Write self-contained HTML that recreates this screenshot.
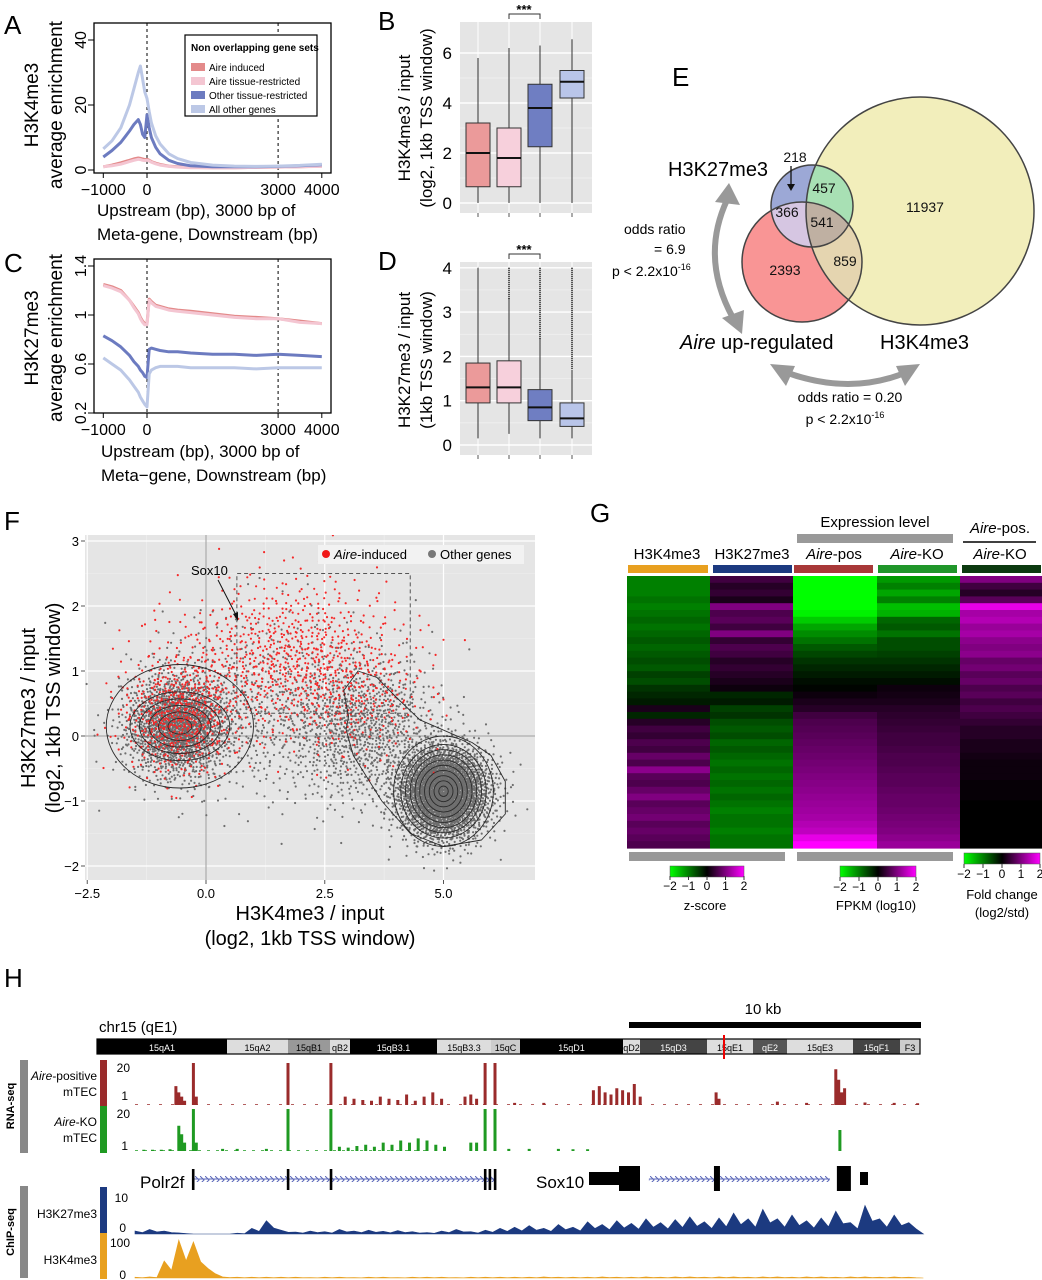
<!DOCTYPE html>
<html><head><meta charset="utf-8">
<style>
html,body{margin:0;padding:0;background:#fff;}
svg{display:block;font-family:"Liberation Sans",sans-serif;}
</style></head>
<body>
<svg id="fig" width="1042" height="1280" viewBox="0 0 1042 1280" xmlns="http://www.w3.org/2000/svg">
<defs>
<clipPath id="cY"><circle cx="920" cy="211" r="114"/></clipPath>
<clipPath id="cR"><circle cx="802" cy="262" r="60"/></clipPath>
<clipPath id="cF"><rect x="85" y="535" width="450" height="345"/></clipPath>
<linearGradient id="gz" x1="0" x2="1"><stop offset="0" stop-color="#00ff00"/><stop offset="0.5" stop-color="#000"/><stop offset="1" stop-color="#ff00ff"/></linearGradient>
<pattern id="hatch" width="5" height="8" patternUnits="userSpaceOnUse"><path d="M0 0 L4 4 L0 8" fill="none" stroke="#5a66b8" stroke-width="1"/></pattern>
</defs>
<rect x="0" y="0" width="1042" height="1280" fill="#fff"/>

<g font-size="26">
<text x="4" y="34">A</text>
<text x="378" y="30">B</text>
<text x="4" y="272">C</text>
<text x="378" y="270">D</text>
<text x="672" y="86">E</text>
<text x="4" y="530">F</text>
<text x="590" y="522">G</text>
<text x="4" y="987">H</text>
</g>

<g id="pa">
<text transform="translate(38,105) rotate(-90)" text-anchor="middle" font-size="19">H3K4me3</text>
<text transform="translate(62,105) rotate(-90)" text-anchor="middle" font-size="19">average enrichment</text>
<text x="97" y="216" font-size="17">Upstream (bp), 3000 bp of</text>
<text x="97" y="240" font-size="17">Meta-gene, Downstream (bp)</text>
</g>
<g id="pc">
<text transform="translate(38,338) rotate(-90)" text-anchor="middle" font-size="19">H3K27me3</text>
<text transform="translate(62,338) rotate(-90)" text-anchor="middle" font-size="19">average enrichment</text>
<text x="101" y="457" font-size="17">Upstream (bp), 3000 bp of</text>
<text x="101" y="481" font-size="17">Meta−gene, Downstream (bp)</text>
</g>
<g id="pb">
<text transform="translate(410,118) rotate(-90)" text-anchor="middle" font-size="17">H3K4me3 / input</text>
<text transform="translate(432,118) rotate(-90)" text-anchor="middle" font-size="17">(log2, 1kb TSS window)</text>
</g>
<g id="pd">
<text transform="translate(410,360) rotate(-90)" text-anchor="middle" font-size="17">H3K27me3 / input</text>
<text transform="translate(432,360) rotate(-90)" text-anchor="middle" font-size="17">(1kb TSS window)</text>
</g>

<g id="pe">
<circle cx="920" cy="211" r="114" fill="#f2eebb"/>
<circle cx="802" cy="262" r="60" fill="#f99595"/>
<circle cx="812" cy="206" r="41" fill="#9ca8d6"/>
<circle cx="802" cy="262" r="60" fill="#e5d5b0" clip-path="url(#cY)"/>
<circle cx="812" cy="206" r="41" fill="#a8e0b4" clip-path="url(#cY)"/>
<circle cx="812" cy="206" r="41" fill="#d6c6e2" clip-path="url(#cR)"/>
<g clip-path="url(#cY)"><circle cx="812" cy="206" r="41" fill="#bfb0a2" clip-path="url(#cR)"/></g>
<g fill="none" stroke="#444" stroke-width="1.5">
<circle cx="920" cy="211" r="114"/><circle cx="802" cy="262" r="60"/><circle cx="812" cy="206" r="41"/>
</g>
<g font-size="14" text-anchor="middle" fill="#111">
<text x="795" y="162">218</text>
<text x="824" y="193">457</text>
<text x="925" y="212">11937</text>
<text x="787" y="217">366</text>
<text x="822" y="227">541</text>
<text x="845" y="266">859</text>
<text x="785" y="275">2393</text>
</g>
<path d="M791 166 L791 187" stroke="#111" stroke-width="1.3"/>
<path d="M787 184 L791 191 L795 184Z" fill="#111"/>
<text x="668" y="176" font-size="20">H3K27me3</text>
<text x="680" y="349" font-size="20"><tspan font-style="italic">Aire</tspan> up-regulated</text>
<text x="880" y="349" font-size="20">H3K4me3</text>
<g font-size="14">
<text x="624" y="234">odds ratio</text>
<text x="654" y="254">= 6.9</text>
<text x="612" y="276">p &lt; 2.2x10<tspan font-size="9" dy="-6">-16</tspan></text>
</g>
<g font-size="14" text-anchor="middle">
<text x="850" y="402">odds ratio = 0.20</text>
<text x="845" y="424">p &lt; 2.2x10<tspan font-size="9" dy="-6">-16</tspan></text>
</g>
<path d="M727 200 Q 700 258 733 318" fill="none" stroke="#999" stroke-width="6"/>
<path d="M715 202 L729 183 L740 205Z" fill="#999"/>
<path d="M722 318 L742 334 L744 310Z" fill="#999"/>
<path d="M785 372 Q 850 396 907 372" fill="none" stroke="#999" stroke-width="6"/>
<path d="M770 364 L795 366 L786 386Z" fill="#999"/>
<path d="M920 364 L896 366 L905 386Z" fill="#999"/>
</g>

<g id="pf">
<text transform="translate(35,708) rotate(-90)" text-anchor="middle" font-size="20">H3K27me3 / input</text>
<text transform="translate(60,708) rotate(-90)" text-anchor="middle" font-size="20">(log2, 1kb TSS window)</text>
<text x="310" y="920" text-anchor="middle" font-size="20">H3K4me3 / input</text>
<text x="310" y="945" text-anchor="middle" font-size="20">(log2, 1kb TSS window)</text>
</g>

<g id="pg">
<text x="875" y="527" text-anchor="middle" font-size="15">Expression level</text>
<rect x="797" y="534" width="156" height="9" fill="#999"/>
<text x="1000" y="533" text-anchor="middle" font-size="15"><tspan font-style="italic">Aire</tspan>-pos.</text>
<line x1="963" y1="542" x2="1036" y2="542" stroke="#000" stroke-width="1.5"/>
<text x="1000" y="559" text-anchor="middle" font-size="15"><tspan font-style="italic">Aire</tspan>-KO</text>
<g font-size="15" text-anchor="middle">
<text x="667" y="559">H3K4me3</text>
<text x="752" y="559">H3K27me3</text>
<text x="834" y="559"><tspan font-style="italic">Aire</tspan>-pos</text>
<text x="917" y="559"><tspan font-style="italic">Aire</tspan>-KO</text>
</g>
<rect x="628" y="565" width="80" height="8" fill="#e8a020"/>
<rect x="713" y="565" width="79" height="8" fill="#1c3a80"/>
<rect x="794" y="565" width="79" height="8" fill="#a83838"/>
<rect x="878" y="565" width="79" height="8" fill="#20962a"/>
<rect x="962" y="565" width="79" height="8" fill="#0c3a10"/>
<rect x="629" y="852" width="156" height="9" fill="#999"/>
<rect x="797" y="852" width="156" height="9" fill="#999"/>
<rect x="670" y="866" width="74" height="11" fill="url(#gz)" stroke="#555" stroke-width="0.5"/>
<rect x="840" y="866" width="76" height="11" fill="url(#gz)" stroke="#555" stroke-width="0.5"/>
<rect x="964" y="853" width="76" height="11" fill="url(#gz)" stroke="#555" stroke-width="0.5"/>
<g font-size="13" text-anchor="middle">
<text x="705" y="910">z-score</text>
<text x="876" y="910">FPKM (log10)</text>
<text x="1002" y="899">Fold change</text>
<text x="1002" y="917">(log2/std)</text>
</g>
</g>

<g id="ph">
<text x="763" y="1014" text-anchor="middle" font-size="15">10 kb</text>
<rect x="629" y="1022" width="292" height="6" fill="#000"/>
<text x="99" y="1032" font-size="15">chr15 (qE1)</text>
<rect x="20" y="1060" width="8" height="93" fill="#888"/>
<rect x="20" y="1186" width="8" height="92" fill="#888"/>
<text transform="translate(14,1106) rotate(-90)" text-anchor="middle" font-size="11" font-weight="bold">RNA-seq</text>
<text transform="translate(14,1232) rotate(-90)" text-anchor="middle" font-size="11" font-weight="bold">ChIP-seq</text>
<rect x="100" y="1060" width="7" height="46" fill="#9a2b2b"/>
<rect x="100" y="1106" width="7" height="47" fill="#1f9a22"/>
<rect x="100" y="1187" width="7" height="46" fill="#1c3a80"/>
<rect x="100" y="1233" width="7" height="46" fill="#e8a020"/>
<g font-size="12" text-anchor="end">
<text x="97" y="1080"><tspan font-style="italic">Aire</tspan>-positive</text>
<text x="97" y="1096">mTEC</text>
<text x="97" y="1126"><tspan font-style="italic">Aire</tspan>-KO</text>
<text x="97" y="1142">mTEC</text>
<text x="97" y="1218">H3K27me3</text>
<text x="97" y="1264">H3K4me3</text>
<text x="130" y="1072">20</text><text x="128" y="1100">1</text>
<text x="130" y="1118">20</text><text x="128" y="1150">1</text>
<text x="128" y="1202">10</text><text x="126" y="1232">0</text>
<text x="130" y="1247">100</text><text x="126" y="1279">0</text>
</g>
<text x="140" y="1188" font-size="17">Polr2f</text>
<text x="536" y="1188" font-size="17">Sox10</text>
</g>
</svg>

<script>
var svg=document.getElementById('fig');
var NS='http://www.w3.org/2000/svg';
function mk(tag,attrs,parent){var e=document.createElementNS(NS,tag);for(var k in attrs)e.setAttribute(k,attrs[k]);(parent||svg).appendChild(e);return e;}
function tx(str,attrs,parent){var e=mk('text',attrs,parent);e.textContent=str;return e;}

var metaX=[-1000,-800,-600,-400,-300,-200,-150,-100,-50,0,50,100,200,300,500,700,1000,1500,2000,2500,3000,3500,4000];
var aAireInduced=[1.0,1.5,2.2,3.0,3.4,3.7,3.6,3.4,3.2,3.3,3.0,2.6,2.1,1.7,1.2,1.0,0.8,0.7,0.7,0.8,0.9,1.0,1.2];
var aAireTissue=[1.0,1.3,1.8,2.6,3.0,3.3,3.2,3.0,2.9,3.0,2.8,2.4,1.9,1.5,1.1,0.9,0.7,0.7,0.7,0.8,0.9,1.0,1.1];
var aOtherTissue=[4,6,8.5,12,14,15.5,14,11,10,17,13,10,7,5,3,2,1.3,1.0,1.0,1.0,1.1,1.3,1.6];
var aAllOther=[6.5,9,13,20,25,30,32,28,24,22,18,14.5,10.5,8,5,3.5,2.3,1.5,1.2,1.1,1.2,1.4,1.8];
var cAireInduced=[1.25,1.23,1.2,1.12,1.07,1.02,0.98,0.95,0.93,0.93,1.13,1.11,1.08,1.07,1.05,1.04,1.03,1.01,0.99,0.98,0.97,0.95,0.93];
var cAireTissue=[1.24,1.22,1.19,1.12,1.06,1.01,0.97,0.94,0.92,0.92,1.12,1.10,1.07,1.06,1.04,1.03,1.02,1.0,0.98,0.97,0.97,0.94,0.93];
var cOtherTissue=[0.83,0.79,0.74,0.67,0.62,0.58,0.55,0.53,0.5,0.49,0.72,0.73,0.72,0.71,0.7,0.7,0.69,0.68,0.68,0.67,0.68,0.67,0.66];
var cAllOther=[0.65,0.6,0.55,0.47,0.42,0.37,0.33,0.3,0.27,0.25,0.52,0.55,0.57,0.58,0.58,0.58,0.57,0.57,0.57,0.56,0.57,0.57,0.57];
var aTicks=[0,20,40], cTicks=[0.2,0.6,1.0,1.4], xTicks=[-1000,0,3000,4000];
var seriesColors=['#e38a8a','#f4c6d2','#6c7bc0','#bcc8e6'];

function metaPanel(g,top,bottom,yf,ticks,series,legend){
  var xf=function(v){return 147+v*0.0437;};
  var box=mk('rect',{x:94,y:top,width:237,height:bottom-top,fill:'none',stroke:'#000','stroke-width':1.3},g);
  
  
  [0,3000].forEach(function(v){var l=mk('line',{x1:xf(v),x2:xf(v),y1:top,y2:bottom,stroke:'#000','stroke-dasharray':'3,3'},g);
    
    });
  ticks.forEach(function(t){mk('line',{x1:88,x2:94,y1:yf(t),y2:yf(t),stroke:'#000'},g);
    var t2=tx(String(t),{transform:'translate(86,'+yf(t)+') rotate(-90)','text-anchor':'middle','font-size':16},g);
    
    });
  xTicks.forEach(function(t){mk('line',{x1:xf(t),x2:xf(t),y1:bottom,y2:bottom+5,stroke:'#000'},g);
    var t2=tx(t<0?'\u2212'+(-t):String(t),{x:xf(t),y:bottom+22,'text-anchor':'middle','font-size':16},g);
    
    });
  series.forEach(function(s,i){
    var d=metaX.map(function(x,j){return (j?'L':'M')+xf(x).toFixed(1)+' '+yf(s[j]).toFixed(1);}).join(' ');
    var p=mk('path',{d:d,fill:'none',stroke:seriesColors[i],'stroke-width':3,'stroke-linejoin':'round'},g);
    
    
  });
  if(legend){
    var lg=mk('g',{},g);
    
    
    mk('rect',{x:185,y:35,width:132,height:81,fill:'#fff',stroke:'#000','stroke-width':1.2},lg);
    tx('Non overlapping gene sets',{x:191,y:51,'font-size':10,'font-weight':'bold'},lg);
    var names=['Aire induced','Aire tissue-restricted','Other tissue-restricted','All other genes'];
    names.forEach(function(n,i){var y=63+i*14;
      var r=mk('rect',{x:191,y:y,width:14,height:8,fill:seriesColors[i]},lg);
      
      
      var t=tx(n,{x:209,y:y+8,'font-size':10},lg);
      
      });
  }
}
metaPanel(document.getElementById('pa'),23,173,function(v){return 170-3.25*v;},aTicks,[aAireInduced,aAireTissue,aOtherTissue,aAllOther],true);
metaPanel(document.getElementById('pc'),259,413,function(v){return 315-(v-1)*122.5;},cTicks,[cAireInduced,cAireTissue,cOtherTissue,cAllOther],false);

var bQ1=[0.65,0.65,2.25,4.2], bMed=[2.0,1.8,3.8,4.85], bQ3=[3.2,3.0,4.75,5.3], bLo=[0,0,0,0], bHi=[5.8,6.2,6.3,6.55], bTicks=[0,2,4,6];
var dQ1=[0.95,0.95,0.55,0.42], dMed=[1.3,1.3,0.85,0.6], dQ3=[1.85,1.9,1.25,0.95], dLo=[0.15,0.25,0.15,0.15], dHi=[4.0,3.3,2.4,1.7], dOut=[4.0,4.0,4.0,4.0], dTicks=[0,1,2,3,4];
var boxColors=['#eb9a9a','#f7d0dc','#6f7ec2','#b9c5e9'];
function boxPanel(g,top,bottom,yf,ticks,q1,med,q3,lo,hi,out){
  var bg=mk('rect',{x:460,y:top,width:132,height:bottom-top,fill:'#e5e5e5'},g);
  
  
  ticks.forEach(function(t,i){mk('line',{x1:460,x2:592,y1:yf(t),y2:yf(t),stroke:'#fff','stroke-width':1.4},g);
    if(i<ticks.length-1){var m=(t+ticks[i+1])/2;mk('line',{x1:460,x2:592,y1:yf(m),y2:yf(m),stroke:'#f2f2f2','stroke-width':0.7},g);}
    var l=tx(String(t),{x:452,y:yf(t)+6,'text-anchor':'end','font-size':17},g);
    
    });
  var cx=[478,509,540,572];
  cx.forEach(function(x){mk('line',{x1:x,x2:x,y1:top,y2:bottom,stroke:'#fff','stroke-width':1},g);mk('line',{x1:x,x2:x,y1:bottom,y2:bottom+4,stroke:'#555'},g);});
  q1.forEach(function(v,i){
    var x=cx[i];
    if(out){var o=mk('line',{x1:x,x2:x,y1:yf(out[i]),y2:yf(hi[i]),stroke:'#222','stroke-width':2,'stroke-dasharray':'1,1'},g);
      
      }
    var w=mk('line',{x1:x,x2:x,y1:yf(hi[i]),y2:yf(lo[i]),stroke:'#333','stroke-width':1},g);
    
    
    var r=mk('rect',{x:x-12,y:yf(q3[i]),width:24,height:yf(v)-yf(q3[i]),fill:boxColors[i],stroke:'#333','stroke-width':1},g);
    
    
    var m=mk('line',{x1:x-12,x2:x+12,y1:yf(med[i]),y2:yf(med[i]),stroke:'#111','stroke-width':2},g);
    
    
  });
  var br=mk('path',{d:'M509 '+(top-3)+' V'+(top-8)+' H540 V'+(top-3),fill:'none',stroke:'#333'},g);
  
  
  var st=tx('***',{x:524,y:top-8,'text-anchor':'middle','font-size':13,'font-weight':'bold'},g);
  
  
}
boxPanel(document.getElementById('pb'),22,213,function(v){return 203-25*v;},bTicks,bQ1,bMed,bQ3,bLo,bHi,null);
boxPanel(document.getElementById('pd'),262,455,function(v){return 445-44.3*v;},dTicks,dQ1,dMed,dQ3,dLo,dHi,dOut);

var otherCx=[5.0,-0.6,3.3,1.3,5.0], otherCy=[-0.85,0.15,0.1,0.4,-1.1], otherSx=[0.5,0.55,0.8,1.3,0.35], otherSy=[0.36,0.4,0.55,0.7,0.3], otherN=[2600,1600,900,600,300];
var aireCx=[-0.6,1.8,3.2,-0.2], aireCy=[0.25,1.25,0.6,0.7], aireSx=[0.55,1.1,0.8,0.9], aireSy=[0.42,0.6,0.5,0.6], aireN=[450,650,220,180];
var fxTicks=[-2.5,0,2.5,5], fxLabels=['-2.5','0.0','2.5','5.0'], fyTicks=[-2,-1,0,1,2,3];
var leftRx=[0.25,0.45,0.65,0.85,1.05,1.55], leftRy=[0.12,0.22,0.32,0.42,0.53,0.95];
var rightRx=[0.1,0.2,0.3,0.4,0.5,0.6,0.7,0.8,0.9,1.05], rightRy=[0.08,0.16,0.24,0.32,0.4,0.48,0.56,0.64,0.72,0.85];
var outerX=[2.9,3.2,3.6,4.0,4.5,5.6,6.0,6.3,6.3,5.8,5.0,4.3,3.7,3.1,2.95,3.0,2.9];
var outerY=[0.7,1.0,0.9,0.6,0.25,-0.1,-0.3,-0.7,-1.2,-1.6,-1.7,-1.5,-1.0,-0.3,0.1,0.3,0.7];
var fX=function(v){return 206+47.5*v;}, fY=function(v){return 736-65*v;};
(function(){
  var g=document.getElementById('pf');
  var bg=mk('rect',{x:85,y:535,width:450,height:345,fill:'#e5e5e5'},g);
  
  
  [-1.25,1.25,3.75].forEach(function(v){mk('line',{x1:fX(v),x2:fX(v),y1:535,y2:880,stroke:'#f0f0f0','stroke-width':0.6},g);});
  [-1.5,-0.5,0.5,1.5,2.5].forEach(function(v){mk('line',{x1:85,x2:535,y1:fY(v),y2:fY(v),stroke:'#f0f0f0','stroke-width':0.6},g);});
  fxTicks.forEach(function(v,i){mk('line',{x1:fX(v),x2:fX(v),y1:535,y2:880,stroke:'#fff','stroke-width':1.2},g);
    mk('line',{x1:fX(v),x2:fX(v),y1:880,y2:884,stroke:'#555'},g);
    var t=tx(fxLabels[i].replace('-','\u2212'),{x:fX(v),y:898,'text-anchor':'middle','font-size':13},g);
    
    });
  fyTicks.forEach(function(v){mk('line',{x1:85,x2:535,y1:fY(v),y2:fY(v),stroke:'#fff','stroke-width':1.2},g);
    mk('line',{x1:81,x2:85,y1:fY(v),y2:fY(v),stroke:'#555'},g);
    var t=tx(v<0?'\u2212'+(-v):String(v),{x:79,y:fY(v)+5,'text-anchor':'end','font-size':13},g);
    
    });
  mk('line',{x1:fX(0),x2:fX(0),y1:535,y2:880,stroke:'#999','stroke-width':1},g);
  mk('line',{x1:85,x2:535,y1:fY(0),y2:fY(0),stroke:'#999','stroke-width':1},g);
  var pts=mk('g',{'clip-path':'url(#cF)'},g);
  
  
  function halton(i,b){var f=1,r=0;while(i>0){f/=b;r+=f*(i%b);i=Math.floor(i/b);}return r;}
  var idx=1;
  function cloud(cx,cy,sx,sy,n,col,name){
    var d='';
    for(var c=0;c<cx.length;c++){
      for(var k=0;k<n[c];k++){
        var u=halton(idx,2)*0.999+0.0005,w=halton(idx,3);idx++;
        var rr=Math.sqrt(-2*Math.log(u));
        var x=fX(cx[c]+sx[c]*rr*Math.cos(2*Math.PI*w)), y=fY(cy[c]+sy[c]*rr*Math.sin(2*Math.PI*w));
        d+='M'+x.toFixed(1)+' '+y.toFixed(1)+'h0';
      }
    }
    var p=mk('path',{d:d,stroke:col,'stroke-width':2.2,'stroke-linecap':'round',fill:'none'},pts);
    
    
  }
  cloud(otherCx,otherCy,otherSx,otherSy,otherN,'#6e6e6e','other-genes-points');
  cloud(aireCx,aireCy,aireSx,aireSy,aireN,'#f52828','aire-induced-points');
  var cont=mk('g',{fill:'none',stroke:'#2a2a2a','stroke-width':0.9},g);
  
  
  leftRx.forEach(function(r,i){mk('ellipse',{cx:fX(-0.55),cy:fY(0.15),rx:r*47.5,ry:leftRy[i]*65},cont);});
  rightRx.forEach(function(r,i){mk('ellipse',{cx:fX(5.0),cy:fY(-0.85),rx:r*47.5,ry:rightRy[i]*65},cont);});
  mk('path',{d:outerX.map(function(x,i){return (i?'L':'M')+fX(x).toFixed(1)+' '+fY(outerY[i]).toFixed(1);}).join(' ')+'Z','stroke-linejoin':'round'},cont);
  var box=mk('path',{d:'M'+fX(0.65)+' '+fY(0.35)+' V'+fY(2.5)+' H'+fX(4.3)+' V'+fY(0.35)+' Z',fill:'none',stroke:'#555','stroke-dasharray':'4,3','stroke-width':1},g);
  
  
  var s=tx('Sox10',{x:191,y:575,'font-size':13},g);
  
  
  mk('line',{x1:218,y1:580,x2:237,y2:617,stroke:'#111','stroke-width':1},g);
  mk('path',{d:'M233 614 L238 621 L238 612Z',fill:'#111'},g);
  var lg=mk('g',{},g);
  
  
  mk('rect',{x:318,y:545,width:206,height:19,fill:'#f2f2f2'},lg);
  mk('circle',{cx:326,cy:554,r:4,fill:'#f01818'},lg);
  var t1=mk('text',{x:334,y:559,'font-size':13},lg);
  var ts=mk('tspan',{'font-style':'italic'},t1); ts.textContent='Aire';
  t1.appendChild(document.createTextNode('-induced'));
  
  
  mk('circle',{cx:432,cy:554,r:4,fill:'#777'},lg);
  var t2=tx('Other genes',{x:440,y:559,'font-size':13},lg);
  
  
})();

var hmK4=[-1.0,-1.0,-1.0,-0.9,-1.0,-0.9,-0.8,-0.9,-0.8,-0.7,-0.8,-0.7,-0.6,-0.7,-0.5,-0.6,-0.4,-0.3,-0.2,0.2,-0.3,0.3,0.5,0.4,0.6,0.5,0.8,0.6,1.1,0.7,0.6,0.8,1.0,0.7,0.8,0.9,0.7,0.8,0.7,0.6];
var hmK27=[0.5,0.3,0.4,0.2,1.0,0.6,0.7,0.5,1.0,0.4,0.6,0.5,0.3,0.4,0.3,0.2,0.1,-0.3,-0.2,-0.5,-0.4,-0.6,-0.7,-0.6,-0.8,-0.7,-0.8,-0.9,-0.8,-0.9,-0.8,-0.9,-0.8,-0.9,-1.0,-0.9,-0.9,-1.0,-0.9,-0.9];
var hmPos=[-2,-2,-2,-2,-2,-1.9,-1.6,-1.3,-1.1,-0.9,-0.7,-0.55,-0.4,-0.3,-0.2,-0.1,-0.03,0.1,0.2,0.3,0.5,0.6,0.65,0.7,0.75,0.8,0.85,0.9,0.95,1.0,1.05,1.1,1.15,1.2,1.25,1.3,1.4,1.5,1.8,2];
var hmKO=[-1.2,-1.0,-1.3,-1.0,-1.5,-1.4,-0.8,-0.7,-0.9,-0.6,-0.6,-0.5,-0.4,-0.3,-0.2,-0.1,0.1,0.15,0.2,0.3,0.35,0.4,0.45,0.5,0.5,0.55,0.6,0.6,0.65,0.7,0.7,0.75,0.8,0.8,0.85,0.9,0.95,1.0,1.1,1.2];
var hmFold=[1.0,0.5,0.3,0.7,1.8,1.3,1.4,1.2,1.3,1.1,1.0,1.1,0.8,0.9,0.7,0.8,0.6,0.7,0.5,0.6,0.5,0.4,0.3,0.3,0.2,0.2,0.15,0.1,0.1,0.1,0.05,0.05,0.05,0,0,0,0,0,0,0];
var legendTicks=[-2,-1,0,1,2];
function hmColor(v){v=Math.max(-2,Math.min(2,v));if(v<0){return 'rgb(0,'+Math.round(-v/2*255)+',0)';}var m=Math.round(v/2*255);return 'rgb('+m+',0,'+m+')';}
(function(){
  var g=document.getElementById('pg');
  var cols=[hmK4,hmK27,hmPos,hmKO,hmFold], colX=[627,710,793,877,960], colW=[83,83,84,83,82];
  var top=576,h=272;
  cols.forEach(function(arr,c){
    var cg=mk('g',{},g);
    
    
    var rh=h/arr.length;
    arr.forEach(function(v,i){
      var r=mk('rect',{x:colX[c],y:(top+i*rh).toFixed(2),width:colW[c],height:(rh+0.6).toFixed(2),fill:hmColor(v)},cg);
      
      
    });
  });
  [[670,74,890],[840,76,891],[964,76,878]].forEach(function(L){
    legendTicks.forEach(function(t){var x=L[0]+(t+2)/4*L[1];
      mk('line',{x1:x,x2:x,y1:L[2]-14,y2:L[2]-10,stroke:'#333'},g);
      var tt=tx(t<0?'\u2212'+(-t):String(t),{x:x,y:L[2],'text-anchor':'middle','font-size':12},g);
      
      });
  });
})();

var bandStart=[97,227,288,330,350,437,491,520,623,640,707,753,787,853,900,920];
var bandShade=['#000','#ddd','#999','#ddd','#000','#ddd','#ccc','#000','#ddd','#444','#ddd','#555','#ddd','#444','#ccc'];
var bandLabel=['15qA1','15qA2','15qB1','qB2','15qB3.1','15qB3.3','15qC','15qD1','qD2','15qD3','15qE1','qE2','15qE3','15qF1','F3'];
var redKb=[1.4,1.5,1.6,1.7,2.0,2.1,5.24,6.71,7.2,7.5,7.8,8.1,8.4,8.7,9.0,9.3,9.6,9.9,10.2,10.5,11.3,11.5,11.7,11.99,12.33,13.0,14.0,15.7,15.9,16.1,16.3,16.5,16.7,16.9,17.1,17.3,19.9,20.0,22.0,23.0,24.0,24.1,24.2,24.3,25.0,26.0,26.8];
var redH=[0.45,0.3,0.2,0.1,1,0.2,1,1,0.2,0.15,0.12,0.1,0.2,0.15,0.12,0.25,0.1,0.2,0.3,0.15,0.2,0.25,0.15,1,1,0.05,0.05,0.35,0.45,0.3,0.25,0.4,0.35,0.3,0.5,0.2,0.3,0.15,0.08,0.05,0.85,0.6,0.3,0.4,0.06,0.05,0.04];
var greenKb=[0.3,0.6,0.9,1.2,1.5,1.6,1.7,2.0,2.1,3.0,3.5,4.5,5.24,6.71,7.0,7.3,7.6,7.9,8.2,8.5,8.8,9.1,9.4,9.7,10.0,10.3,10.6,11.5,11.7,11.99,12.33,12.8,13.5,14.5,15.0,15.5,24.14];
var greenH=[0.03,0.03,0.03,0.04,0.6,0.4,0.2,1,0.2,0.05,0.05,0.05,1,1,0.1,0.08,0.12,0.15,0.1,0.2,0.15,0.25,0.2,0.3,0.25,0.15,0.1,0.2,0.2,1,1,0.05,0.05,0.05,0.04,0.04,0.5];
var k27Bins=[0.8,1.2,0.8,0.3,0,0,0,0.2,1.5,3.5,1.0,0.5,0.8,0.6,1.2,0.8,1.0,0.7,0.9,0.6,0.4,0.8,1.2,0.6,1.0,1.5,1.8,2.2,1.5,2.5,1.8,3.2,2.5,3.5,2.8,4.0,3.0,3.8,4.5,3.2,4.2,5.5,4.0,6.5,4.0,5.0,3.5,4.2,6.0,3.0,7.5,4.0,5.0,3.0];
var k4Bins=[2,3,45,100,95,25,3,2,2,2,2,2,1,2,2,1,2,2,1,2,2,2,1,2,2,2,2,2,3,2,2,2,3,2,2,3,2,3,3,2,3,3,2,3,3,2,3,3,2,3,3,2,3,2];
var polrExons=[1.99,5.24,6.71,11.99,12.15,12.33];
var sox10Exons=[19.93,24.14];
(function(){
  var g=document.getElementById('ph');
  var X=function(kb){return 135+kb*29.2;};
  var chr=mk('g',{},g);
  
  
  bandLabel.forEach(function(lbl,i){
    var x0=bandStart[i],x1=bandStart[i+1];
    mk('rect',{x:x0,y:1039,width:x1-x0,height:15,fill:bandShade[i]},chr);
    var dark=(bandShade[i]=='#000'||bandShade[i]=='#444'||bandShade[i]=='#555');
    var t=tx(lbl,{x:(x0+x1)/2,y:1051,'text-anchor':'middle','font-size':9,fill:dark?'#fff':'#000'},chr);
    
    
  });
  mk('rect',{x:97,y:1039,width:823,height:15,fill:'none',stroke:'#000','stroke-width':1.2},chr);
  var rl=mk('line',{x1:724,x2:724,y1:1035,y2:1059,stroke:'#e00','stroke-width':2},g);
  
  
  function bars(kb,h,base,full,col,name){
    var d='';kb.forEach(function(k,i){var x=X(k);d+='M'+(x-1.5).toFixed(1)+' '+base+'h3v'+(-h[i]*full).toFixed(1)+'h-3Z';});
    var p=mk('path',{d:d,fill:col},g);
    
    
  }
  mk('line',{x1:135,x2:920,y1:1104.5,y2:1104.5,stroke:'#9a2b2b','stroke-width':0.8,'stroke-dasharray':'3,9'},g);
  mk('line',{x1:135,x2:430,y1:1150.5,y2:1150.5,stroke:'#1f9a22','stroke-width':0.8,'stroke-dasharray':'3,6'},g);
  bars(redKb,redH,1105,42,'#9a2b2b','rnaseq-aire-positive-bars');
  bars(greenKb,greenH,1151,42,'#1f9a22','rnaseq-aire-ko-bars');
  function area(bins,max,base,full,col,name){
    var step=0.5,d='M'+X(0)+' '+base;
    bins.forEach(function(v,i){var y=base-v/max*full;d+=' L'+X(i*step).toFixed(1)+' '+y.toFixed(1)+' L'+X(i*step+step*0.5).toFixed(1)+' '+(base-v/max*full*0.45).toFixed(1);});
    d+=' L'+X(bins.length*step).toFixed(1)+' '+base+'Z';
    var p=mk('path',{d:d,fill:col,stroke:col,'stroke-width':0.6},g);
    
    
  }
  area(k27Bins,10,1234,38,'#1c3a80','chipseq-h3k27me3-area');
  area(k4Bins,100,1278,38,'#e8a020','chipseq-h3k4me3-area');
  var gene=mk('g',{},g);
  
  
  mk('rect',{x:X(1.99),y:1176,width:X(12.33)-X(1.99),height:6,fill:'url(#hatch)'},gene);
  mk('line',{x1:X(1.99),x2:X(12.33),y1:1179,y2:1179,stroke:'#5a66b8','stroke-width':1},gene);
  polrExons.forEach(function(k){var r=mk('rect',{x:X(k)-1.2,y:1169,width:2.6,height:21,fill:'#000'},gene);
    
    });
  mk('rect',{x:X(17.6),y:1176,width:X(23.8)-X(17.6),height:6,fill:'url(#hatch)'},gene);
  mk('line',{x1:X(17.6),x2:X(23.8),y1:1179,y2:1179,stroke:'#5a66b8','stroke-width':1},gene);
  mk('rect',{x:589,y:1172,width:32,height:13,fill:'#000'},gene);
  mk('rect',{x:619,y:1166,width:21,height:25,fill:'#000'},gene);
  sox10Exons.forEach(function(k){var r=mk('rect',{x:X(k)-3,y:1166,width:k>24?14:6,height:25,fill:'#000'},gene);
    
    });
  mk('rect',{x:860,y:1172,width:8,height:13,fill:'#000'},gene);
})();
</script>
</body></html>
